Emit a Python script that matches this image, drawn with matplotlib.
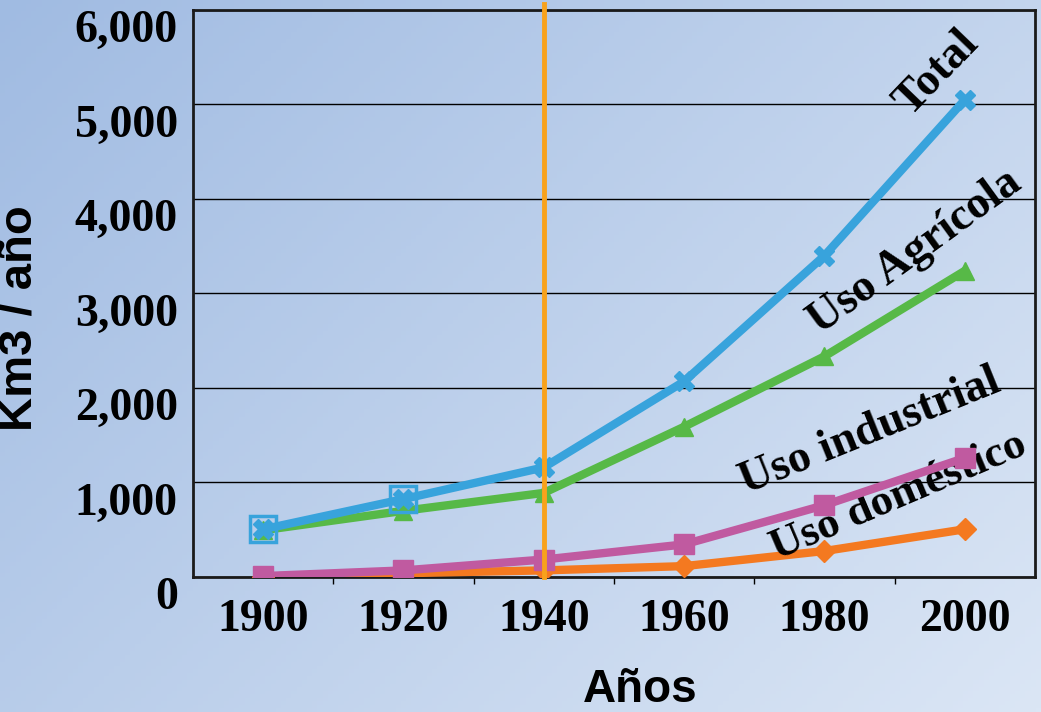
import numpy as np
import matplotlib.pyplot as plt

# datos (km3 / año)
years = [1900, 1920, 1940, 1960, 1980, 2000]
total = [505, 825, 1160, 2070, 3400, 5050]
agricola = [495, 700, 890, 1590, 2335, 3240]
industrial = [10, 70, 185, 345, 760, 1260]
domestico = [5, 40, 70, 115, 275, 505]
yticks = [0, 1000, 2000, 3000, 4000, 5000, 6000]
ytick_labels = ['0', '1,000', '2,000', '3,000', '4,000', '5,000', '6,000']
marca = 1940

fig = plt.figure(figsize=(10.41, 7.12), dpi=100)

# fondo degradado
bg = fig.add_axes([0, 0, 1, 1], zorder=-10)
gx, gy = np.meshgrid(np.linspace(0, 1, 200), np.linspace(0, 1, 200))
g = (gx * 0.6 + gy * 0.4)
c0 = np.array([0xa0, 0xbb, 0xe2]) / 255
c1 = np.array([0xdb, 0xe6, 0xf5]) / 255
img = c0[None, None, :] * (1 - g[..., None]) + c1[None, None, :] * g[..., None]
bg.imshow(img, aspect='auto', extent=[0, 1, 0, 1], origin='upper')
bg.axis('off')

ax = fig.add_axes([0.1854, 0.1896, 0.8088, 0.7964])
ax.patch.set_alpha(0)

serif = 'Liberation Serif'
sans = 'Liberation Sans'
lw = 6

ax.plot(years, domestico, color='#f47920', lw=lw, marker='D', ms=11, zorder=3)
ax.plot(years, industrial, color='#c05aa0', lw=lw, marker='s', ms=14, zorder=4)
ax.plot(years, agricola, color='#57b947', lw=lw, marker='^', ms=13, zorder=5)
ax.plot(years, total, color='#38a3dc', lw=lw, marker='X', ms=15, zorder=6)
ax.plot(years[:2], total[:2], ls='none', marker='s', ms=19, mfc='none',
        mec='#38a3dc', mew=2.5, zorder=7)

ax.axvline(marca, ymin=0, ymax=1.01, color='#f8a21c', lw=3.5, zorder=8, clip_on=False)

ax.set_xlim(1890, 2010)
ax.set_ylim(0, 6000)
ax.set_yticks(yticks)
ax.set_yticklabels(ytick_labels, fontfamily=serif, fontweight='bold', fontsize=33, va='top')
ax.set_xticks(years)
ax.set_xticklabels([str(y) for y in years], fontfamily=serif, fontweight='bold', fontsize=33)
ax.set_xticks([1910, 1930, 1950, 1970, 1990], minor=True)
ax.tick_params(axis='x', which='major', length=0, pad=16)
ax.tick_params(axis='x', which='minor', length=5, width=1, direction='out')
ax.tick_params(axis='y', length=0, pad=11)
ax.grid(axis='y', color='black', lw=1)
for s in ax.spines.values():
    s.set_linewidth(2)
    s.set_color('#1a1a1a')

fig.text(640 / 1041, 1 - 690 / 712, 'Años', fontfamily=sans, fontweight='bold',
         fontsize=33, ha='center', va='center')
fig.text(20 / 1041, 1 - 318 / 712, 'Km3 / año', fontfamily=sans, fontweight='bold',
         fontsize=34, ha='center', va='center', rotation=90)

txt = dict(fontfamily=serif, fontweight='bold', ha='center', va='center',
           rotation_mode='anchor')
ax.text(1996, 5330, 'Total', rotation=46, fontsize=33, **txt)
ax.text(1993, 3440, 'Uso Agrícola', rotation=36, fontsize=33, **txt)
ax.text(1986.5, 1535, 'Uso industrial', rotation=22, fontsize=33, **txt)
ax.text(1990.5, 850, 'Uso doméstico', rotation=23, fontsize=32, **txt)

fig.savefig('out.png', dpi=100)
